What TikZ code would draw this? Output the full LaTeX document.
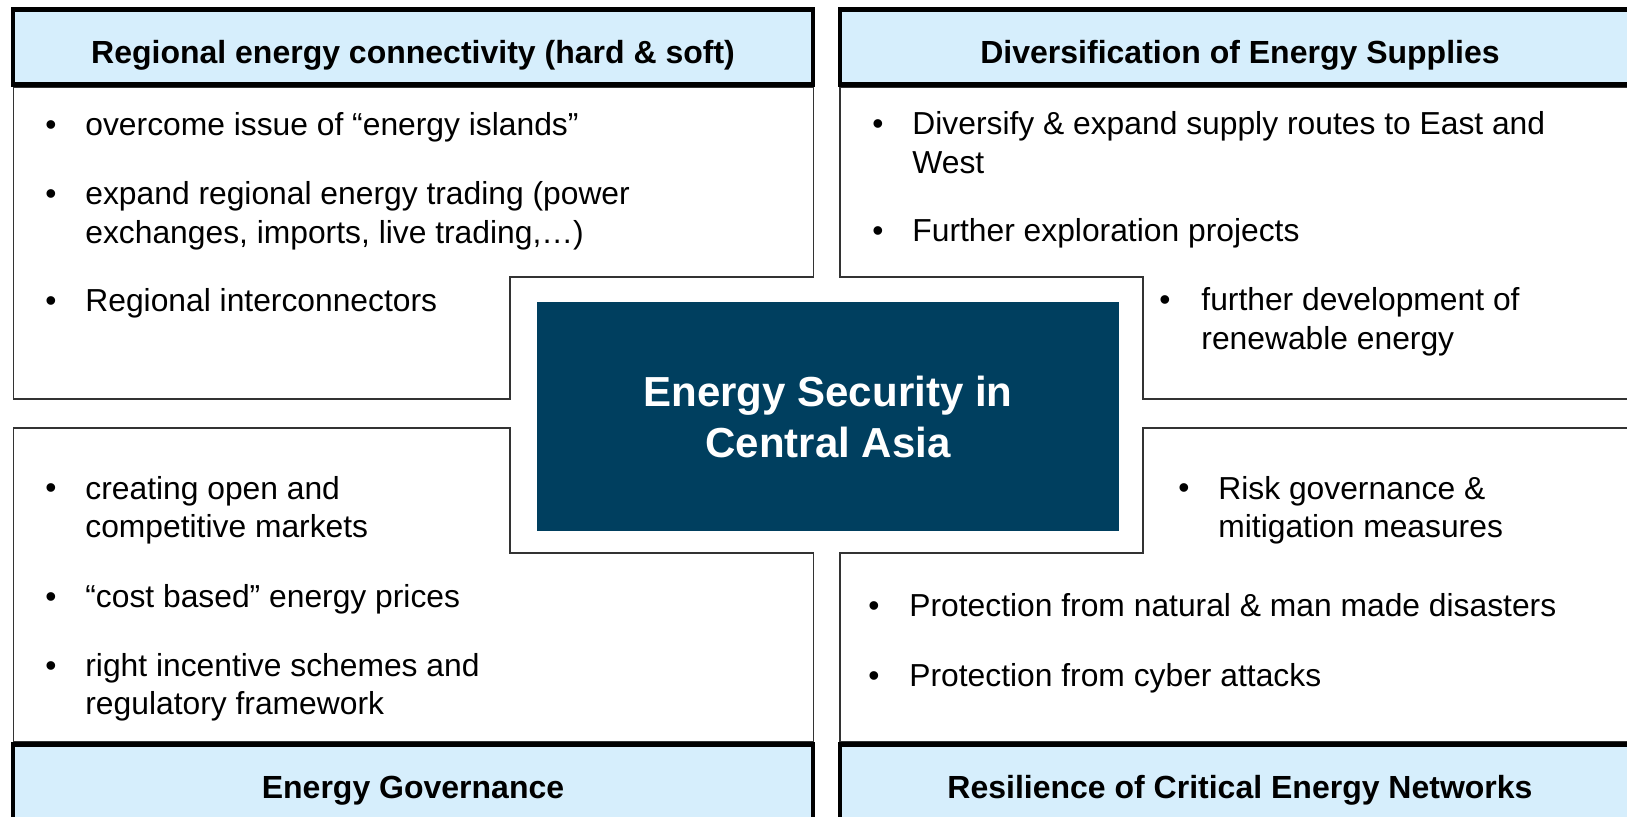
\documentclass[tikz,border=0pt]{standalone}
\usepackage{fontspec}
\setmainfont{Liberation Sans}
\definecolor{headblue}{RGB}{214,238,252}
\definecolor{coreblue}{RGB}{0,63,95}
\tikzset{
  hdr/.style={draw=black, line width=2.25pt, fill=headblue, minimum width=400pt,
    minimum height=37.6pt, inner sep=0pt, text height=16.5pt, text depth=0pt,
    font=\bfseries\fontsize{16pt}{19pt}\selectfont},
  pane/.style={draw=black!80, line width=0.65pt, fill=white},
  item/.style={anchor=base west, align=left, inner sep=0pt,
    font=\fontsize{15.9pt}{19.2pt}\selectfont},
  dot/.style={anchor=base, inner sep=0pt, font=\fontsize{15.9pt}{19.2pt}\selectfont},
}
\begin{document}
\begin{tikzpicture}[x=0.5pt, y=-0.5pt]
    \useasboundingbox (0,0) rectangle (1627,817);

    % panes
    \draw[pane] (13.3,87) -- (13.3,399) -- (510,399) -- (510,277) -- (813.3,277) -- (813.3,87) -- cycle;
    \draw[pane] (840,87) -- (840,277) -- (1143,277) -- (1143,399) -- (1640,399) -- (1640,87) -- cycle;
    \draw[pane] (13.3,742) -- (13.3,428) -- (510,428) -- (510,553) -- (813.3,553) -- (813.3,742) -- cycle;
    \draw[pane] (840,742) -- (840,553) -- (1143,553) -- (1143,428) -- (1640,428) -- (1640,742) -- cycle;

    % headers
    \node[hdr] (tlhead) at (413,47)   {Regional energy connectivity (hard \& soft)};
    \node[hdr] (trhead) at (1240,47)  {Diversification of Energy Supplies};
    \node[hdr] (blhead) at (413,782)  {Energy Governance};
    \node[hdr] (brhead) at (1240,782) {Resilience of Critical Energy Networks};

    % core
    \node[fill=coreblue, minimum width=291pt, minimum height=114.5pt, inner sep=0pt,
          text=white, align=center, font=\bfseries\fontsize{21pt}{25.5pt}\selectfont]
          (core) at (828,416.5) {Energy Security in\\Central Asia};

    % top left (two-line items sit on their last baseline)
    \node[dot] (tl1b) at (51,136) {•};
    \node[item] (tl1) at (85,136) {overcome issue of “energy islands”};
    \node[dot] (tl2b) at (51,205) {•};
    \node[item] (tl2) at (85,243.4) {expand regional energy trading (power\\exchanges, imports, live trading,…)};
    \node[dot] (tl3b) at (51,312) {•};
    \node[item] (tl3) at (85,312) {Regional interconnectors};

    % top right
    \node[dot] (tr1b) at (878,135) {•};
    \node[item] (tr1) at (912,173.4) {Diversify \& expand supply routes to East and\\West};
    \node[dot] (tr2b) at (878,242) {•};
    \node[item] (tr2) at (912,242) {Further exploration projects};
    \node[dot] (tr3b) at (1165,311) {•};
    \node[item] (tr3) at (1201,349.4) {further development of\\renewable energy};

    % bottom left
    \node[dot] (bl1b) at (51,499) {•};
    \node[item] (bl1) at (85,537.4) {creating open and\\competitive markets};
    \node[dot] (bl2b) at (51,607) {•};
    \node[item] (bl2) at (85,607) {“cost based” energy prices};
    \node[dot] (bl3b) at (51,676) {•};
    \node[item] (bl3) at (85,714.4) {right incentive schemes and\\regulatory framework};

    % bottom right
    \node[dot] (br1b) at (1184,499) {•};
    \node[item] (br1) at (1218,537.4) {Risk governance \&\\mitigation measures};
    \node[dot] (br2b) at (874,617) {•};
    \node[item] (br2) at (909,617) {Protection from natural \& man made disasters};
    \node[dot] (br3b) at (874,686) {•};
    \node[item] (br3) at (909,686) {Protection from cyber attacks};
\end{tikzpicture}
\end{document}
